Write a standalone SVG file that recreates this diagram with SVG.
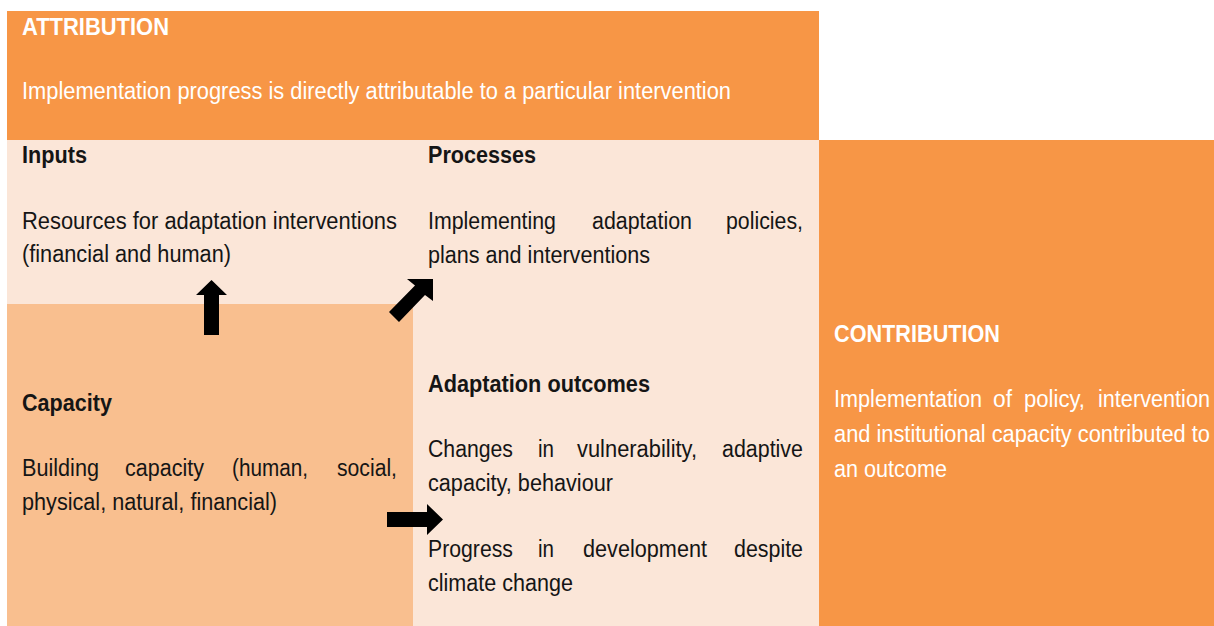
<svg xmlns="http://www.w3.org/2000/svg" width="1214" height="626" viewBox="0 0 1214 626">
<style>
.t{font-family:"Liberation Sans",Arial,sans-serif;font-size:22px;fill:#151515}
.w{fill:#ffffff}
.b{font-weight:bold}
.dark{fill:#F79646}
.light{fill:#FBE6D8}
.mid{fill:#F9BF8F}
.arrow{fill:#000000}
</style>
<rect x="0" y="0" width="1214" height="626" fill="#ffffff"/>
<g id="attribution">
<rect class="dark" x="7" y="11" width="812" height="129"/>
<text class="t w b" x="22" y="35" transform="matrix(1 0 0 1.11 0 -3.85)" textLength="147" lengthAdjust="spacingAndGlyphs">ATTRIBUTION</text>
<text class="t w" x="22" y="99" transform="matrix(1 0 0 1.11 0 -10.89)" textLength="709" lengthAdjust="spacingAndGlyphs">Implementation progress is directly attributable to a particular intervention</text>
</g>
<g id="inputs">
<rect class="light" x="7" y="140" width="406" height="164"/>
<text class="t b" x="22" y="163" transform="matrix(1 0 0 1.11 0 -17.93)" textLength="65" lengthAdjust="spacingAndGlyphs">Inputs</text>
<text class="t" x="22" y="229" transform="matrix(1 0 0 1.11 0 -25.19)" textLength="375" lengthAdjust="spacingAndGlyphs">Resources for adaptation interventions</text>
<text class="t" x="22" y="262" transform="matrix(1 0 0 1.11 0 -28.82)" textLength="209" lengthAdjust="spacingAndGlyphs">(financial and human)</text>
</g>
<g id="processes">
<rect class="light" x="413" y="140" width="406" height="221"/>
<text class="t b" x="428" y="163" transform="matrix(1 0 0 1.11 0 -17.93)" textLength="108" lengthAdjust="spacingAndGlyphs">Processes</text>
<text class="t" x="428" y="229" transform="matrix(1 0 0 1.11 0 -25.19)" textLength="128" lengthAdjust="spacingAndGlyphs">Implementing</text>
<text class="t" x="592" y="229" transform="matrix(1 0 0 1.11 0 -25.19)" textLength="100" lengthAdjust="spacingAndGlyphs">adaptation</text>
<text class="t" x="726" y="229" transform="matrix(1 0 0 1.11 0 -25.19)" textLength="77" lengthAdjust="spacingAndGlyphs">policies,</text>
<text class="t" x="428" y="263" transform="matrix(1 0 0 1.11 0 -28.93)" textLength="222" lengthAdjust="spacingAndGlyphs">plans and interventions</text>
</g>
<g id="outcomes">
<rect class="light" x="413" y="360" width="406" height="266"/>
<text class="t b" x="428" y="392" transform="matrix(1 0 0 1.11 0 -43.12)" textLength="222" lengthAdjust="spacingAndGlyphs">Adaptation outcomes</text>
<text class="t" x="428" y="457" transform="matrix(1 0 0 1.11 0 -50.27)" textLength="85" lengthAdjust="spacingAndGlyphs">Changes</text>
<text class="t" x="538" y="457" transform="matrix(1 0 0 1.11 0 -50.27)" textLength="16" lengthAdjust="spacingAndGlyphs">in</text>
<text class="t" x="577" y="457" transform="matrix(1 0 0 1.11 0 -50.27)" textLength="120" lengthAdjust="spacingAndGlyphs">vulnerability,</text>
<text class="t" x="722" y="457" transform="matrix(1 0 0 1.11 0 -50.27)" textLength="81" lengthAdjust="spacingAndGlyphs">adaptive</text>
<text class="t" x="428" y="491" transform="matrix(1 0 0 1.11 0 -54.01)" textLength="185" lengthAdjust="spacingAndGlyphs">capacity, behaviour</text>
<text class="t" x="428" y="557" transform="matrix(1 0 0 1.11 0 -61.27)" textLength="85" lengthAdjust="spacingAndGlyphs">Progress</text>
<text class="t" x="538" y="557" transform="matrix(1 0 0 1.11 0 -61.27)" textLength="16" lengthAdjust="spacingAndGlyphs">in</text>
<text class="t" x="583" y="557" transform="matrix(1 0 0 1.11 0 -61.27)" textLength="124" lengthAdjust="spacingAndGlyphs">development</text>
<text class="t" x="734" y="557" transform="matrix(1 0 0 1.11 0 -61.27)" textLength="69" lengthAdjust="spacingAndGlyphs">despite</text>
<text class="t" x="428" y="591" transform="matrix(1 0 0 1.11 0 -65.01)" textLength="145" lengthAdjust="spacingAndGlyphs">climate change</text>
</g>
<g id="capacity">
<rect class="mid" x="7" y="304" width="406" height="322"/>
<text class="t b" x="22" y="411" transform="matrix(1 0 0 1.11 0 -45.21)" textLength="90" lengthAdjust="spacingAndGlyphs">Capacity</text>
<text class="t" x="22" y="476" transform="matrix(1 0 0 1.11 0 -52.36)" textLength="77" lengthAdjust="spacingAndGlyphs">Building</text>
<text class="t" x="125" y="476" transform="matrix(1 0 0 1.11 0 -52.36)" textLength="79" lengthAdjust="spacingAndGlyphs">capacity</text>
<text class="t" x="232" y="476" transform="matrix(1 0 0 1.11 0 -52.36)" textLength="76" lengthAdjust="spacingAndGlyphs">(human,</text>
<text class="t" x="337" y="476" transform="matrix(1 0 0 1.11 0 -52.36)" textLength="60" lengthAdjust="spacingAndGlyphs">social,</text>
<text class="t" x="22" y="510" transform="matrix(1 0 0 1.11 0 -56.1)" textLength="255" lengthAdjust="spacingAndGlyphs">physical, natural, financial)</text>
</g>
<g id="contribution">
<rect class="dark" x="819" y="140" width="395" height="486"/>
<text class="t w b" x="834" y="342" transform="matrix(1 0 0 1.11 0 -37.62)" textLength="166" lengthAdjust="spacingAndGlyphs">CONTRIBUTION</text>
<text class="t w" x="834" y="407" transform="matrix(1 0 0 1.11 0 -44.77)" textLength="148" lengthAdjust="spacingAndGlyphs">Implementation</text>
<text class="t w" x="993" y="407" transform="matrix(1 0 0 1.11 0 -44.77)" textLength="19" lengthAdjust="spacingAndGlyphs">of</text>
<text class="t w" x="1024" y="407" transform="matrix(1 0 0 1.11 0 -44.77)" textLength="61" lengthAdjust="spacingAndGlyphs">policy,</text>
<text class="t w" x="1098" y="407" transform="matrix(1 0 0 1.11 0 -44.77)" textLength="112" lengthAdjust="spacingAndGlyphs">intervention</text>
<text class="t w" x="834" y="442" transform="matrix(1 0 0 1.11 0 -48.62)" textLength="376" lengthAdjust="spacingAndGlyphs">and institutional capacity contributed to</text>
<text class="t w" x="834" y="477" transform="matrix(1 0 0 1.11 0 -52.47)" textLength="113" lengthAdjust="spacingAndGlyphs">an outcome</text>
</g>
<g id="connectors">
<polygon class="arrow" points="204,335 204,295 196,295 211.5,280 227,295 219,295 219,335"/>
<polygon class="arrow" points="389,312 415,285.5 407,279 433,279 433,301 425,295 399,322"/>
<polygon class="arrow" points="387,512 427,512 427,504 443,519.5 427,535 427,527 387,527"/>
</g>
</svg>
